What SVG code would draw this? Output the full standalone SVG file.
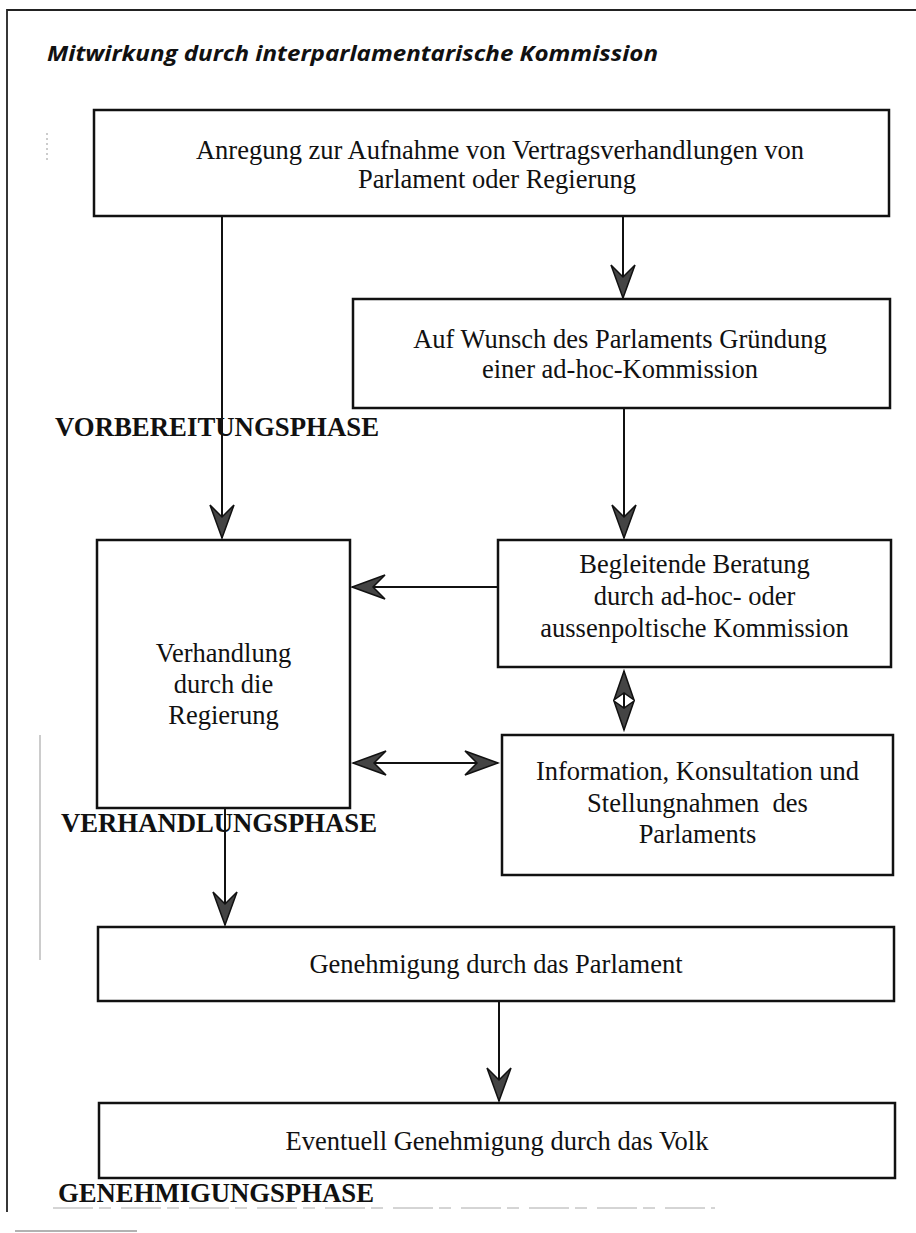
<svg xmlns="http://www.w3.org/2000/svg" width="916" height="1233" viewBox="0 0 916 1233">
<style>
.box{fill:#fff;stroke:#111;stroke-width:2.5}
.t{font-family:"Liberation Serif","Times New Roman",serif;font-size:26.5px;fill:#111;text-anchor:middle}
.ph{font-family:"Liberation Serif","Times New Roman",serif;font-size:26.5px;font-weight:bold;fill:#111}
.ln{stroke:#111;stroke-width:2;fill:none}
.art{stroke:#999;stroke-width:1;fill:none}
</style>
<defs>
<marker id="ah" markerUnits="userSpaceOnUse" viewBox="-34 -13 36 26" refX="0" refY="0" markerWidth="36" markerHeight="26" orient="auto-start-reverse">
<path d="M0,0 L-33,-12 L-21,0 L-33,12 Z" fill="#444" stroke="#111" stroke-width="1.5" stroke-linejoin="miter"/>
</marker>
<marker id="ahs" markerUnits="userSpaceOnUse" viewBox="-31 -11 33 22" refX="0" refY="0" markerWidth="33" markerHeight="22" orient="auto-start-reverse">
<path d="M0,0 L-29,-10 L-22,0 L-29,10 Z" fill="#444" stroke="#111" stroke-width="1.5"/>
</marker>
</defs>
<rect width="916" height="1233" fill="#fff"/>
<g id="frame">
<path d="M7,1212 V10 H916" fill="none" stroke="#222" stroke-width="1.8"/>
<path d="M53,1208 H715" fill="none" stroke="#aaa" stroke-width="1" stroke-dasharray="40 6 12 10"/>
<path d="M15,1231 H137" fill="none" stroke="#999" stroke-width="1.5"/>
<path class="art" d="M40,735 V960"/>
<path class="art" d="M47,133 V163" stroke-dasharray="2 3"/>
</g>
<text id="title" x="47" y="61" font-family="'Open Sans','Noto Sans',sans-serif" font-size="22" font-weight="bold" font-style="italic" fill="#111" textLength="611" lengthAdjust="spacingAndGlyphs">Mitwirkung durch interparlamentarische Kommission</text>
<g id="labels">
<text class="ph" x="55" y="436" textLength="324" lengthAdjust="spacingAndGlyphs">VORBEREITUNGSPHASE</text>
<text class="ph" x="61" y="832" textLength="316" lengthAdjust="spacingAndGlyphs">VERHANDLUNGSPHASE</text>
<text class="ph" x="58" y="1202" textLength="316" lengthAdjust="spacingAndGlyphs">GENEHMIGUNGSPHASE</text>
</g>
<g id="n-anregung">
<rect class="box" x="94" y="110" width="795" height="106" stroke-width="3"/>
<text class="t" x="500" y="159">Anregung zur Aufnahme von Vertragsverhandlungen von</text>
<text class="t" x="497" y="188">Parlament oder Regierung</text>
</g>
<g id="n-wunsch">
<rect class="box" x="353" y="299" width="537" height="109"/>
<text class="t" x="620" y="348">Auf Wunsch des Parlaments Gründung</text>
<text class="t" x="620" y="378">einer ad-hoc-Kommission</text>
</g>
<g id="n-verhandlung">
<rect class="box" x="97" y="540" width="253" height="268"/>
<text class="t" x="223.5" y="662">Verhandlung</text>
<text class="t" x="223.5" y="693">durch die</text>
<text class="t" x="223.5" y="724">Regierung</text>
</g>
<g id="n-begleitende">
<rect class="box" x="498" y="540" width="393" height="127"/>
<text class="t" x="694.5" y="573">Begleitende Beratung</text>
<text class="t" x="694.5" y="605">durch ad-hoc- oder</text>
<text class="t" x="694.5" y="637">aussenpoltische Kommission</text>
</g>
<g id="n-information">
<rect class="box" x="502" y="735" width="391" height="140"/>
<text class="t" x="697.5" y="780">Information, Konsultation und</text>
<text class="t" x="697.5" y="812" xml:space="preserve">Stellungnahmen  des</text>
<text class="t" x="697.5" y="843">Parlaments</text>
</g>
<g id="n-genehmigung">
<rect class="box" x="98" y="927" width="796" height="74"/>
<text class="t" x="496" y="973">Genehmigung durch das Parlament</text>
</g>
<g id="n-volk">
<rect class="box" x="99" y="1103" width="796" height="75"/>
<text class="t" x="497" y="1150">Eventuell Genehmigung durch das Volk</text>
</g>
<g id="connectors">
<line class="ln" x1="222" y1="217" x2="222" y2="538" marker-end="url(#ah)"/>
<line class="ln" x1="623" y1="217" x2="623" y2="298" marker-end="url(#ah)"/>
<line class="ln" x1="624" y1="409" x2="624" y2="538" marker-end="url(#ah)"/>
<line class="ln" x1="497" y1="587" x2="352" y2="587" marker-end="url(#ah)"/>
<line class="ln" x1="624" y1="671" x2="624" y2="730" marker-start="url(#ahs)" marker-end="url(#ahs)"/>
<line class="ln" x1="353" y1="763" x2="498" y2="763" marker-start="url(#ah)" marker-end="url(#ah)"/>
<line class="ln" x1="225" y1="809" x2="225" y2="925" marker-end="url(#ah)"/>
<line class="ln" x1="499" y1="1002" x2="499" y2="1101" marker-end="url(#ah)"/>
</g>
</svg>
